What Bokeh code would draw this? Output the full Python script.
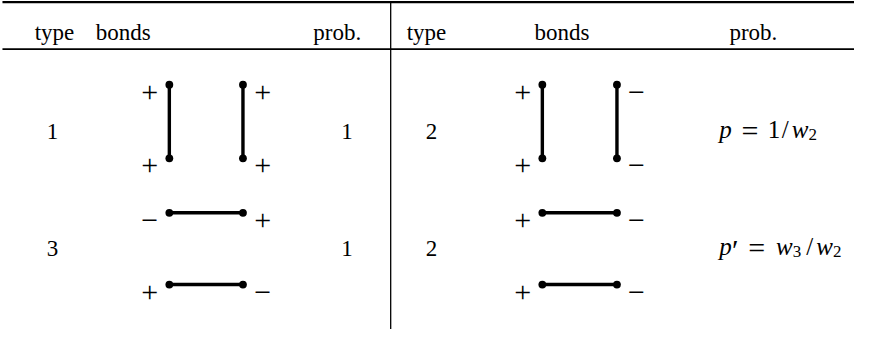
from bokeh.plotting import figure
from bokeh.models import Range1d, ColumnDataSource
from bokeh.embed import file_html
from bokeh.resources import INLINE
from bokeh.core.properties import value

# ---------------- data ----------------
headers = ["type", "bonds", "prob."]
left_types = ["1", "3"]
right_types = ["2", "2"]
left_probs = ["1", "1"]
# probability expressions of the right panel, as (piece, role)
right_probs = [
    [("p", "it"), ("=", "op"), ("1", "rm"), ("/", "rm"), ("w", "it"), ("2", "sub")],
    [("p", "it"), ("′", "prime"), ("=", "op"), ("w", "it"), ("3", "sub"),
     ("/", "rm"), ("w", "it"), ("2", "sub")],
]
row_orientation = ["vertical", "horizontal"]
# end signs of each bond: (top, bottom) for vertical, (left, right) for horizontal
left_signs = [[("+", "+"), ("+", "+")], [("−", "+"), ("+", "−")]]
right_signs = [[("+", "+"), ("−", "−")], [("+", "−"), ("+", "−")]]

# ---------------- layout (reference pixel frame) ----------------
W, H = 854, 329
REF_W, REF_H = 870, 345
TABLE_X0, TABLE_X1 = 2, 870
RULE_TOP_Y, RULE_MID_Y = 2.7, 51.8
VLINE_X, VLINE_Y1 = 397.5, 345
HEADER_BASE = 34
PANELS = {
    "left": dict(hx=(55, 125, 343), type_x=53, bond_x=(172, 247), prob_x=353),
    "right": dict(hx=(434, 572, 767), type_x=439, bond_x=(552, 628), prob_x=731),
}
ROWS = [dict(base=138, bond_y=(89, 166)), dict(base=260, bond_y=(223, 298))]
SIGN_GAP = 20
SIGN_DY = 8
# widths of math boxes (reference px)
MATH_BOX = {"p": 15, "′": 7, "=": 21, "1": 12, "/": 11, "w": 19, "sub": 11,
            "pre": 7, "post": 8}

FONT = "Liberation Serif"
TXT_SIZE = "23px"
MATH_SIZE = "25px"
OP_SIZE = "30px"
SUB_SIZE = "17px"
PRIME_SIZE = "30px"
SIGN_SIZE = "30px"

p = figure(width=W, height=H, x_range=Range1d(0, REF_W), y_range=Range1d(REF_H, 1),
           output_backend="svg", toolbar_location=None, min_border=0,
           background_fill_color="white", border_fill_color="white")
p.axis.visible = False
p.grid.visible = False
p.outline_line_color = None

# rules
p.segment(x0=[TABLE_X0], y0=[RULE_TOP_Y], x1=[TABLE_X1], y1=[RULE_TOP_Y], line_color="black", line_width=2.4)
p.segment(x0=[TABLE_X0], y0=[RULE_MID_Y], x1=[TABLE_X1], y1=[RULE_MID_Y], line_color="black", line_width=1.6)
p.segment(x0=[VLINE_X], y0=[RULE_TOP_Y], x1=[VLINE_X], y1=[VLINE_Y1], line_color="black", line_width=1.3)


def txt(xs, ys, texts, size=TXT_SIZE, style="normal", align="center"):
    src = ColumnDataSource(dict(x=xs, y=ys, t=texts))
    p.text(x="x", y="y", text="t", source=src, text_font=value(FONT), text_font_size=size,
           text_font_style=style, text_align=align, text_baseline="alphabetic", text_color="black")


# headers
for name, pan in PANELS.items():
    txt(list(pan["hx"]), [HEADER_BASE] * 3, headers)

# type and probability columns
txt([PANELS["left"]["type_x"]] * 2, [r["base"] for r in ROWS], left_types)
txt([PANELS["right"]["type_x"]] * 2, [r["base"] for r in ROWS], right_types)
txt([PANELS["left"]["prob_x"]] * 2, [r["base"] for r in ROWS], left_probs)

# math expressions
for r, expr in enumerate(right_probs):
    x = PANELS["right"]["prob_x"]
    base = ROWS[r]["base"] - 2
    for piece, role in expr:
        if role == "op":
            x += MATH_BOX["pre"]
        w = MATH_BOX["sub"] if role == "sub" else MATH_BOX[piece]
        cx = x + w / 2
        if role == "sub":
            txt([cx - 2], [base + 5], [piece], size=SUB_SIZE)
        elif role == "it":
            txt([cx], [base], [piece], size=MATH_SIZE, style="italic")
        elif role == "prime":
            txt([cx - 1], [base + 3], [piece], size=PRIME_SIZE)
        elif role == "op":
            txt([cx], [base + 1], [piece], size=OP_SIZE)
        else:
            txt([cx], [base], [piece], size=MATH_SIZE)
        x += w
        if role == "op":
            x += MATH_BOX["post"]

# bonds
bx0, by0, bx1, by1 = [], [], [], []
dx, dy = [], []
sx, sy, st = [], [], []
for name, signs in (("left", left_signs), ("right", right_signs)):
    xa, xb = PANELS[name]["bond_x"]
    for r, orient in enumerate(row_orientation):
        ya, yb = ROWS[r]["bond_y"]
        for i, (s0, s1) in enumerate(signs[r]):
            if orient == "vertical":
                x = (xa, xb)[i]
                bx0.append(x); bx1.append(x); by0.append(ya); by1.append(yb)
                dx += [x, x]; dy += [ya, yb]
                side = -SIGN_GAP if i == 0 else SIGN_GAP
                sx += [x + side, x + side]; sy += [ya, yb]; st += [s0, s1]
            else:
                y = (ya, yb)[i]
                bx0.append(xa); bx1.append(xb); by0.append(y); by1.append(y)
                dx += [xa, xb]; dy += [y, y]
                sx += [xa - SIGN_GAP, xb + SIGN_GAP]; sy += [y, y]; st += [s0, s1]

p.segment(x0=bx0, y0=by0, x1=bx1, y1=by1, line_color="black", line_width=3.4)
p.scatter(x=dx, y=dy, size=7.8, marker="circle", fill_color="black", line_color=None)
txt(sx, [y + SIGN_DY for y in sy], st, size=SIGN_SIZE)

open("out.html", "w").write(file_html(p, INLINE))
